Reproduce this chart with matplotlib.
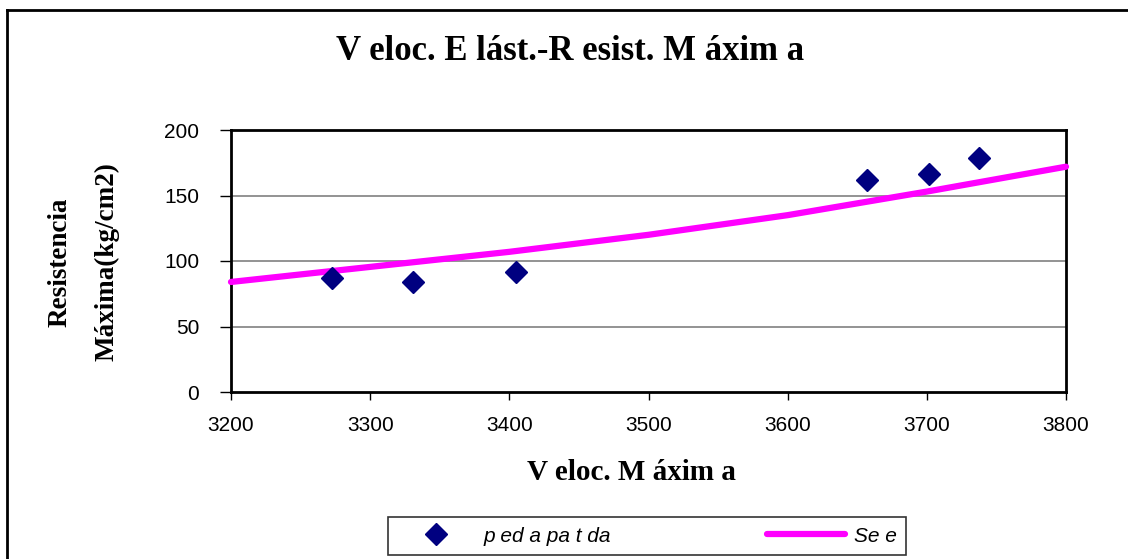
import numpy as np
import matplotlib
matplotlib.use("Agg")
import matplotlib.pyplot as plt
from matplotlib.lines import Line2D

# measured points (Veloc. Maxima vs Resistencia Maxima)
veloc = [3272.6, 3330.8, 3404.8, 3657.0, 3701.5, 3737.5]
resist = [87.0, 84.0, 91.6, 161.8, 166.4, 178.6]

# second series (curve)
serie_x = [3200, 3300, 3400, 3500, 3600, 3700, 3800]
serie_y = [84.0, 95.5, 107.0, 120.0, 135.0, 153.0, 172.0]

x_ticks = [3200, 3300, 3400, 3500, 3600, 3700, 3800]
y_ticks = [0, 50, 100, 150, 200]

serif = "Liberation Serif"
sans = "Liberation Sans"

fig = plt.figure(figsize=(11.28, 5.59), dpi=100)
ax = fig.add_axes([231 / 1128, 1 - 392 / 559, 835 / 1128, 262 / 559])

for v in y_ticks[1:-1]:
    ax.axhline(v, color="#808080", lw=1.2, zorder=1)

ax.plot(serie_x, serie_y, color="#FF00FF", lw=4.5, solid_capstyle="round", zorder=3,
        clip_on=False)
ax.plot(veloc, resist, ls="none", marker="D", ms=11, color="#000080", zorder=4)

ax.set_xlim(3200, 3800)
ax.set_ylim(0, 200)
ax.set_xticks(x_ticks)
ax.set_yticks(y_ticks)
for sp in ax.spines.values():
    sp.set_linewidth(2)
ax.tick_params(axis="x", direction="out", length=6, width=1, pad=11, labelsize=15)
ax.tick_params(axis="y", direction="out", length=8, width=1, pad=15, labelsize=15)
for lab in ax.get_xticklabels() + ax.get_yticklabels():
    lab.set_fontfamily(sans)

fig.text(570 / 1128, 1 - 51 / 559, "V eloc. E lást.-R esist. M áxim a", ha="center", va="center",
         fontsize=25, fontweight="bold", family=serif)
fig.text(631 / 1128, 1 - 473 / 559, "V eloc. M áxim a", ha="center", va="center",
         fontsize=21, fontweight="bold", family=serif)
fig.text(60 / 1128, 1 - 262 / 559, "Resistencia", ha="center", va="center", rotation=90,
         fontsize=19.5, fontweight="bold", family=serif)
fig.text(107 / 1128, 1 - 262 / 559, "Máxima(kg/cm2)", ha="center", va="center", rotation=90,
         fontsize=19.5, fontweight="bold", family=serif)

# outer chart border (only left and top visible)
fig.add_artist(Line2D([7 / 1128, 7 / 1128], [0, 1 - 10 / 559], color="black", lw=2,
                      transform=fig.transFigure))
fig.add_artist(Line2D([7 / 1128, 1], [1 - 10 / 559, 1 - 10 / 559], color="black", lw=2,
                      transform=fig.transFigure))

handles = [Line2D([], [], ls="none", marker="D", ms=11, color="#000080"),
           Line2D([], [], color="#FF00FF", lw=4.5, solid_capstyle="round")]
leg = fig.legend(handles, ["p ed a pa t da", "Se e"], loc="center", mode="expand",
                 bbox_to_anchor=(388 / 1128, 1 - 555 / 559, 518 / 1128, 38 / 559), ncol=2,
                 frameon=True, fancybox=False, edgecolor="black", handlelength=3.75,
                 handletextpad=0.4, borderpad=0.45, borderaxespad=0,
                 prop={"family": sans, "style": "italic", "size": 15})
leg.get_frame().set_linewidth(1.2)

fig.savefig("out.png", dpi=100)
